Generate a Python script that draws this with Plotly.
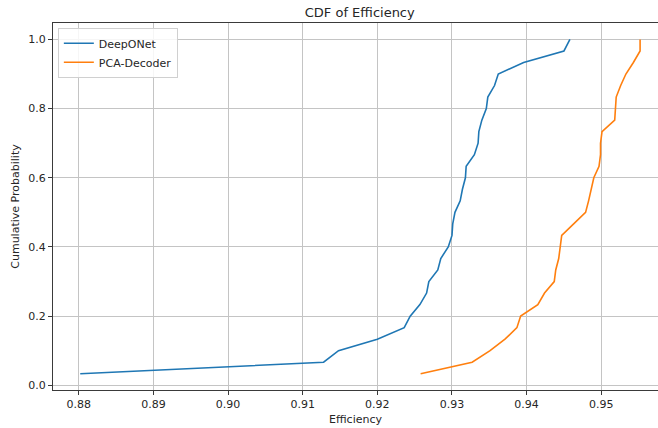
import numpy as np
import plotly.graph_objects as go

# Sorted efficiency samples for each model (30 cases each)
deeponet_eff = [
    0.8802, 0.9128, 0.9148, 0.9200, 0.9236, 0.9244, 0.9257, 0.9266, 0.9269, 0.9281,
    0.9285, 0.9295, 0.9300, 0.9301, 0.9304, 0.9311, 0.9314, 0.9318, 0.9319, 0.9330,
    0.9335, 0.9336, 0.9340, 0.9346, 0.9348, 0.9357, 0.9362, 0.9396, 0.9450, 0.9458,
]
pca_decoder_eff = [
    0.9258, 0.9327, 0.9351, 0.9371, 0.9387, 0.9392, 0.9415, 0.9424, 0.9437, 0.9439,
    0.9443, 0.9445, 0.9447, 0.9463, 0.9479, 0.9483, 0.9487, 0.9490, 0.9497, 0.9499,
    0.9499, 0.9501, 0.9518, 0.9519, 0.9520, 0.9526, 0.9533, 0.9543, 0.9552, 0.9552,
]
series_names = ["DeepONet", "PCA-Decoder"]
series_colors = ["#1f77b4", "#ff7f0e"]
x_ticks = [0.88, 0.89, 0.90, 0.91, 0.92, 0.93, 0.94, 0.95]
y_ticks = [0.0, 0.2, 0.4, 0.6, 0.8, 1.0]


def empirical_cdf(values):
    v = np.sort(np.asarray(values, dtype=float))
    p = np.arange(1, len(v) + 1) / len(v)
    return v, p


fig = go.Figure()
for name, vals, color in zip(series_names, [deeponet_eff, pca_decoder_eff], series_colors):
    xs, ps = empirical_cdf(vals)
    fig.add_trace(go.Scatter(
        x=xs, y=ps, mode="lines", name=name,
        line=dict(color=color, width=1.6),
    ))

font_family = "DejaVu Sans, Arial, sans-serif"
axis_common = dict(
    showgrid=True, gridcolor="#c4c4c4", gridwidth=1,
    zeroline=False, showline=True, linecolor="#3a3a3a", linewidth=1,
    ticks="outside", ticklen=4, tickcolor="#3a3a3a", tickwidth=1,
    tickfont=dict(family=font_family, size=11, color="#262626"),
)

fig.update_layout(
    width=658, height=428,
    margin=dict(l=53, r=0, t=23, b=38),
    paper_bgcolor="white", plot_bgcolor="white",
    font=dict(family=font_family, color="#262626"),
    title=dict(text="CDF of Efficiency", x=0.507, xref="paper", xanchor="center",
               y=0.972, yref="container", yanchor="middle",
               font=dict(family=font_family, size=13, color="#262626")),
    xaxis=dict(
        range=[0.87655, 0.9576], tickvals=x_ticks, tickformat=".2f",
        mirror=True,
        title=dict(text="Efficiency", standoff=5,
                   font=dict(family=font_family, size=11, color="#262626")),
        **axis_common,
    ),
    yaxis=dict(
        range=[-0.0136, 1.0475], tickvals=y_ticks, tickformat=".1f",
        title=dict(text="Cumulative Probability", standoff=6,
                   font=dict(family=font_family, size=11, color="#262626")),
        **axis_common,
    ),
    legend=dict(
        x=0.008, y=0.987, xanchor="left", yanchor="top",
        bgcolor="rgba(255,255,255,0.85)", bordercolor="#d0d0d0", borderwidth=1,
        font=dict(family=font_family, size=11, color="#262626"),
        tracegroupgap=0, itemwidth=30,
    ),
    showlegend=True,
)

fig.write_html("out.html")
